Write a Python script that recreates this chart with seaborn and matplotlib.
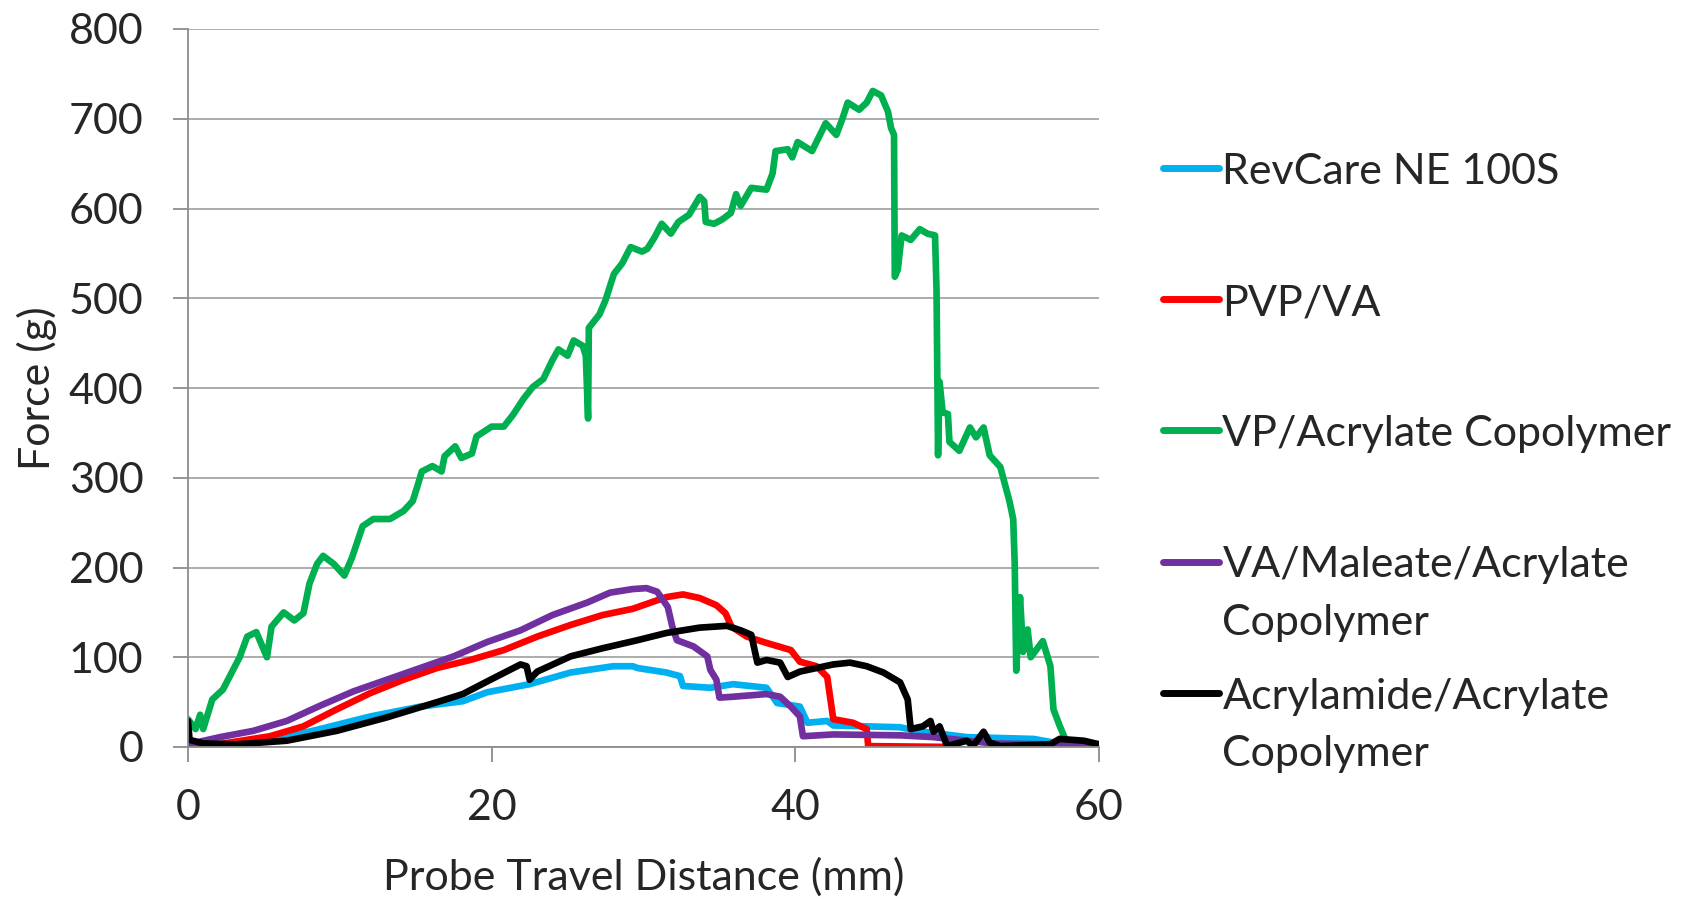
import numpy as np
import pandas as pd
import matplotlib
matplotlib.use("Agg")
import matplotlib.pyplot as plt
import seaborn as sns

series_names = ["RevCare NE 100S", "PVP/VA", "VP/Acrylate Copolymer",
                "VA/Maleate/Acrylate Copolymer", "Acrylamide/Acrylate Copolymer"]
legend_labels = ["RevCare NE 100S\n ", "PVP/VA\n ", "VP/Acrylate Copolymer\n ",
                 "VA/Maleate/Acrylate\nCopolymer", "Acrylamide/Acrylate\nCopolymer"]
colors = ["#00B0F0", "#FF0000", "#00B050", "#7030A0", "#000000"]

revcare_x = [0, 2, 5.4, 8.7, 12.0, 15.3, 18.1, 19.7, 22.5, 25.2, 28.0, 29.3, 29.6, 31.5,
             32.4, 32.6, 34.4, 35.9, 38.1, 38.8, 40.3, 40.8, 42.1, 42.5, 46.9, 48.0, 51.3,
             55.7, 57, 60]
revcare_y = [0, 2, 7, 20, 34, 45, 51, 61, 70, 83, 90, 90, 88, 83,
             79, 68, 66, 70, 66, 49, 45, 27, 29, 24, 22, 18, 11,
             9, 5, 3]

pvpva_x = [0, 2, 5.4, 7.6, 9.8, 12.0, 14.2, 16.4, 18.6, 20.8, 23.0, 25.2, 27.3, 29.3, 31.5,
           32.6, 33.7, 34.8, 35.4, 35.8, 36.8, 38.1, 39.7, 40.3, 41.4, 42.1, 42.5, 43.8,
           44.7, 44.8, 50.5]
pvpva_y = [0, 3, 12, 23, 42, 60, 75, 88, 97, 108, 123, 136, 147, 154, 167,
           170, 166, 158, 149, 134, 123, 116, 108, 95, 90, 78, 31, 27,
           20, 1, 0]

vp_x = [0, 0.5, 0.8, 1.0, 1.6, 2.3, 3.4, 3.9, 4.5, 5.2, 5.5, 6.3, 7.0, 7.6, 8.0, 8.5, 8.9,
        9.6, 10.3, 10.8, 11.5, 12.2, 13.3, 14.2, 14.8, 15.1, 15.4, 16.1, 16.7, 16.9, 17.6,
        18.0, 18.7, 19.0, 20.0, 20.8, 21.4, 22.1, 22.7, 23.4, 24.0, 24.4, 25.0, 25.4, 26.0,
        26.2, 26.35, 26.4, 27.1, 27.5, 28.05, 28.6, 29.15, 29.9, 30.25, 30.7, 31.2, 31.8,
        32.3, 33.0, 33.7, 34.0, 34.1, 34.65, 35.2, 35.75, 36.1, 36.4, 37.1, 38.1, 38.5,
        38.7, 39.5, 39.8, 40.15, 41.1, 42.0, 42.7, 43.1, 43.45, 44.2, 44.7, 45.1, 45.65,
        46.1, 46.3, 46.5, 46.55, 46.75, 47.0, 47.6, 48.2, 48.7, 49.2, 49.3, 49.4, 49.5,
        49.7, 50.05, 50.15, 50.8, 51.5, 51.9, 52.4, 52.8, 53.5, 54.1, 54.35, 54.45, 54.55,
        54.8, 55.0, 55.3, 55.5, 56.3, 56.8, 57.0, 57.4, 57.9, 58.5, 60]
vp_y = [31, 20, 36, 20, 53, 64, 100, 123, 128, 100, 134, 150, 141, 149, 182, 204, 213,
        204, 191, 211, 246, 254, 254, 263, 274, 290, 307, 313, 307, 324, 335,
        322, 327, 346, 357, 357, 370, 388, 401, 410, 431, 443, 436, 453, 447,
        436, 366, 467, 482, 498, 527, 539, 557, 552, 555, 567, 583, 572,
        585, 593, 613, 608, 585, 583, 588, 595, 616, 603, 623, 621, 639,
        664, 666, 657, 674, 664, 695, 682, 700, 718, 710, 718, 731, 726,
        708, 690, 682, 524, 532, 570, 565, 577, 572, 570, 509, 325, 407,
        373, 371, 340, 330, 356, 345, 356, 325, 312, 274, 254, 203, 85,
        167, 106, 131, 100, 118, 90, 42, 24, 4, 3, 3]

vam_x = [0, 2.1, 4.3, 6.5, 8.7, 10.9, 13.1, 15.3, 17.5, 19.7, 21.9, 24.0, 26.3, 27.8, 29.3,
         30.2, 30.9, 31.6, 31.9, 32.2, 33.3, 34.2, 34.4, 34.8, 35.0, 35.9, 38.1, 39.0, 39.7,
         40.3, 40.5, 42.5, 46.9, 49.1, 50.2, 51.3, 53, 56, 60]
vam_y = [3, 11, 18, 29, 46, 62, 75, 88, 101, 117, 130, 147, 161, 172, 176,
         177, 173, 156, 134, 119, 112, 101, 86, 75, 55, 56, 59, 56, 45,
         34, 12, 14, 13, 11, 9, 7, 4, 3, 3]

aa_x = [0, 0.1, 1, 3.2, 6.5, 9.8, 13.1, 16.4, 18.1, 19.7, 21.9, 22.3, 22.5, 23.0, 25.2, 27.3,
        29.6, 31.5, 33.7, 35.5, 36.4, 37.1, 37.5, 38.1, 39.0, 39.5, 40.3, 42.5, 43.6, 44.7,
        45.8, 46.9, 47.4, 47.6, 48.4, 48.9, 49.1, 49.5, 50.0, 51.3, 51.7, 52.4, 52.8, 53.5,
        56.8, 57.4, 59.0, 60]
aa_y = [29, 8, 4, 3, 7, 18, 33, 50, 59, 73, 92, 90, 75, 84, 101, 110,
        119, 127, 133, 135, 130, 125, 94, 97, 94, 78, 84, 92, 94, 90,
        83, 72, 53, 20, 23, 29, 17, 23, 1, 7, 1, 17, 5, 1,
        3, 9, 7, 3]

x_ticks = [0, 20, 40, 60]
y_ticks = [0, 100, 200, 300, 400, 500, 600, 700, 800]

frames = []
for name, xs, ys in zip(series_names,
                        [revcare_x, pvpva_x, vp_x, vam_x, aa_x],
                        [revcare_y, pvpva_y, vp_y, vam_y, aa_y]):
    frames.append(pd.DataFrame({"x": xs, "y": ys, "series": name}))
df = pd.concat(frames, ignore_index=True)

sns.set_theme(style="white")
plt.rcParams["font.family"] = ["Lato", "DejaVu Sans"]
FS = 31

TOP, BOT = 29, 747
fig = plt.figure(figsize=(16.84, 8.99), dpi=100)
ax = fig.add_axes([188 / 1684, 1 - BOT / 899, (1099 - 188) / 1684, (BOT - TOP) / 899])

sns.lineplot(data=df, x="x", y="y", hue="series", hue_order=series_names,
             palette=dict(zip(series_names, colors)), sort=False, estimator=None,
             linewidth=4.8, solid_capstyle="round", solid_joinstyle="round",
             legend=False, ax=ax)

ax.set_xlim(0, 60)
ax.set_ylim(0, 800)
ax.set_xticks(x_ticks)
ax.set_yticks(y_ticks)
ax.set_xticklabels([str(v) for v in x_ticks], fontsize=FS)
ax.set_yticklabels([str(v) for v in y_ticks], fontsize=FS)
ax.yaxis.grid(True, color="#A6A6A6", linewidth=1.3)
ax.xaxis.grid(False)
ax.set_axisbelow(True)
for s in ["top", "right"]:
    ax.spines[s].set_visible(False)
for s in ["left", "bottom"]:
    ax.spines[s].set_color("#8C8C8C")
    ax.spines[s].set_linewidth(1.3)
ax.tick_params(axis="y", which="major", direction="out", length=11, width=1.3,
               color="#8C8C8C", pad=21, left=True)
ax.tick_params(axis="x", which="major", direction="out", length=11, width=1.3,
               color="#8C8C8C", pad=19, bottom=True)

ax.set_xlabel("Probe Travel Distance (mm)", fontsize=FS, va="center")
ax.set_ylabel("Force (g)", fontsize=FS, va="center")
ax.xaxis.set_label_coords(0.5, (BOT - 877) / (BOT - TOP))
ax.yaxis.set_label_coords((37 - 188) / 911, 0.5)

handles = ax.get_lines()[:5]
leg = fig.legend(handles, legend_labels, loc="upper left",
                 bbox_to_anchor=(1163 / 1684, 1 - 153 / 899), frameon=False,
                 fontsize=FS, handlelength=1.3, handletextpad=0.08,
                 labelspacing=0.82, borderpad=0, borderaxespad=0)
for t in leg.get_texts():
    t.set_linespacing(1.64)
for line in leg.get_lines():
    line.set_linewidth(5)
    line.set_solid_capstyle("round")
try:
    col = leg._legend_handle_box.get_children()[0]
    for item in col.get_children():
        item.align = "top"
except Exception:
    pass

fig.savefig("out.png", dpi=100)
